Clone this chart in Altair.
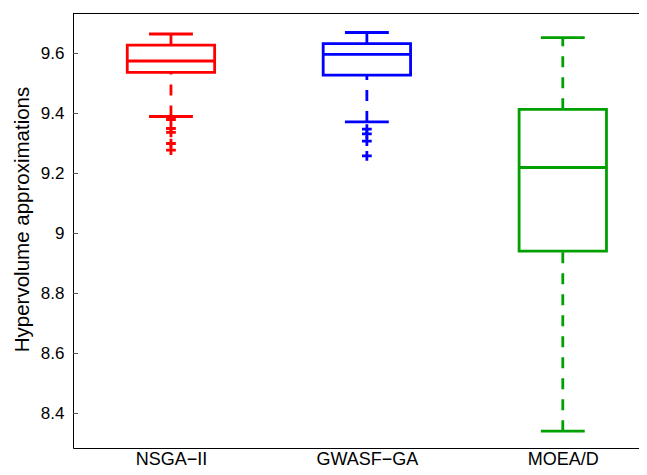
import altair as alt
import pandas as pd

# ---- data ----
cats = ["NSGA\u2212II", "GWASF\u2212GA", "MOEA/D"]
positions = [1, 2, 3]
colors = ["#ff0000", "#0000ff", "#00a000"]
q1 = [9.537, 9.528, 8.941]
median = [9.575, 9.597, 9.220]
q3 = [9.628, 9.633, 9.414]
whisk_lo = [9.390, 9.372, 8.341]
whisk_hi = [9.665, 9.670, 9.653]
outliers = [
    [9.380, 9.350, 9.337, 9.300, 9.278],
    [9.348, 9.332, 9.308, 9.259],
    [],
]
y_ticks = [8.4, 8.6, 8.8, 9.0, 9.2, 9.4, 9.6]

# ---- styling constants ----
half_box = 0.223
half_cap = 0.112
lw = 2.8
dash = [11, 10]
W, H = 566, 435

rows = []
for i, c in enumerate(cats):
    p = positions[i]
    rows.append(dict(name=c, pos=p, left=p - half_box, right=p + half_box,
                     capl=p - half_cap, capr=p + half_cap,
                     q1=q1[i], med=median[i], q3=q3[i],
                     lo=whisk_lo[i], hi=whisk_hi[i]))
df = pd.DataFrame(rows)
odf = pd.DataFrame([dict(name=cats[i], pos=positions[i], val=v)
                    for i in range(len(cats)) for v in outliers[i]])
tdf = pd.DataFrame(dict(t=y_ticks))

xscale = alt.Scale(domain=[0.5, 3.389], nice=False, zero=False)
yscale = alt.Scale(domain=[8.285, 9.735], nice=False, zero=False)
cscale = alt.Scale(domain=cats, range=colors)

label_expr = " : ".join(
    [f"datum.value == {positions[i]} ? '{cats[i]}'" for i in range(len(cats) - 1)]
    + [f"'{cats[-1]}'"])

xaxis = alt.Axis(values=positions, labelExpr=label_expr, ticks=False, grid=False,
                 domain=True, domainColor="black", domainWidth=1,
                 title=None, labelPadding=2, labelFontSize=18, labelBaseline="top")
yaxis = alt.Axis(values=y_ticks, labelExpr="'' + datum.value", ticks=False, grid=False,
                 domain=True, domainColor="black", domainWidth=1,
                 title="Hypervolume approximations", labelPadding=9,
                 labelFontSize=17, titleFontSize=20.5, titleFontWeight="normal",
                 titlePadding=8, titleY=206)

color = alt.Color("name:N", scale=cscale, legend=None)
base = alt.Chart(df)

boxes = base.mark_rect(filled=False, strokeWidth=lw, strokeJoin="miter").encode(
    x=alt.X("left:Q", scale=xscale, axis=xaxis), x2="right:Q",
    y=alt.Y("q1:Q", scale=yscale, axis=yaxis), y2="q3:Q", color=color)
med = base.mark_rule(strokeWidth=lw).encode(
    x=alt.X("left:Q", scale=xscale), x2="right:Q",
    y=alt.Y("med:Q", scale=yscale), color=color)
wh_up = base.mark_rule(strokeWidth=lw, strokeDash=dash).encode(
    x=alt.X("pos:Q", scale=xscale), y=alt.Y("q3:Q", scale=yscale), y2="hi:Q", color=color)
wh_lo = base.mark_rule(strokeWidth=lw, strokeDash=dash).encode(
    x=alt.X("pos:Q", scale=xscale), y=alt.Y("lo:Q", scale=yscale), y2="q1:Q", color=color)
cap_up = base.mark_rule(strokeWidth=lw).encode(
    x=alt.X("capl:Q", scale=xscale), x2="capr:Q", y=alt.Y("hi:Q", scale=yscale), color=color)
cap_lo = base.mark_rule(strokeWidth=lw).encode(
    x=alt.X("capl:Q", scale=xscale), x2="capr:Q", y=alt.Y("lo:Q", scale=yscale), color=color)
pts = alt.Chart(odf).mark_point(shape="M-1,0L1,0M0,-1L0,1", filled=False,
                                  size=95, strokeWidth=lw, opacity=1).encode(
    x=alt.X("pos:Q", scale=xscale), y=alt.Y("val:Q", scale=yscale), color=color)
ticks = alt.Chart(tdf).mark_rule(color="#555555", strokeWidth=1).encode(
    x=alt.value(0), x2=alt.value(5), y=alt.Y("t:Q", scale=yscale))
top = alt.Chart(tdf.head(1)).mark_rule(color="black", strokeWidth=1).encode(
    x=alt.value(0), x2=alt.value(W + 10), y=alt.value(0.5))

chart = alt.layer(boxes, med, wh_up, wh_lo, cap_up, cap_lo, pts, ticks, top).properties(
    width=W, height=H,
    autosize=alt.AutoSizeParams(type="none"),
    padding={"left": 65, "top": 5, "right": 0, "bottom": 19},
).configure(
    font="Liberation Sans"
).configure_view(stroke=None).configure_axis(
    labelColor="black", titleColor="black", labelFont="Liberation Sans",
    titleFont="Liberation Sans")

chart.save("out.html", embed_options={"renderer": "svg", "actions": False})
